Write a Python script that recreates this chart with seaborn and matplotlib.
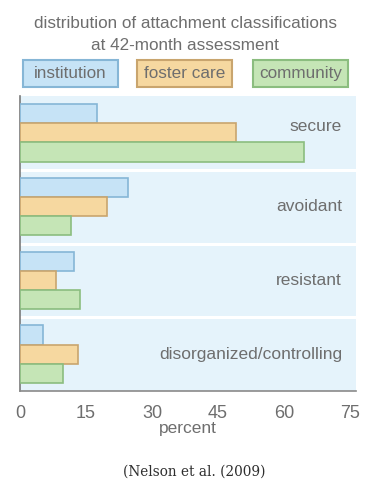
import pandas as pd
import matplotlib.pyplot as plt
import seaborn as sns
from matplotlib.patches import Rectangle

# --- DATA ---
categories = ["secure", "avoidant", "resistant", "disorganized/controlling"]
groups = ["institution", "foster care", "community"]
institution = [17.4, 24.5, 12.3, 5.3]
foster_care = [49.1, 19.7, 8.2, 13.1]
community = [64.5, 11.7, 13.7, 9.8]
x_ticks = [0, 15, 30, 45, 60, 75]

fills = {"institution": "#c6e3f6", "foster care": "#f6d8a0", "community": "#c5e5b6"}
edges = {"institution": "#86b6d6", "foster care": "#c9a56e", "community": "#8bbd7f"}
text_grey = "#6e6e6e"

df = pd.DataFrame({
    "category": categories * 3,
    "group": ["institution"] * 4 + ["foster care"] * 4 + ["community"] * 4,
    "percent": institution + foster_care + community,
})

sns.set_style("white")
plt.rcParams["font.family"] = ["Liberation Sans", "DejaVu Sans"]

fig = plt.figure(figsize=(3.75, 5.04), dpi=100)
ax = fig.add_axes([20 / 375, 1 - 391 / 504, 336 / 375, 295 / 504])
ax.set_facecolor("#e5f3fb")

sns.barplot(data=df, y="category", x="percent", hue="group", order=categories,
            hue_order=groups, palette=fills, saturation=1, orient="h", width=0.78,
            linewidth=1.2, legend=False, ax=ax, zorder=3)
for cont, g in zip(ax.containers, groups):
    for bar in cont:
        bar.set_edgecolor(edges[g])

# white separators between the category bands
for y in [0.5, 1.5, 2.5]:
    ax.axhline(y, color="white", lw=2.2, zorder=2)

ax.set_ylim(3.5, -0.5)
ax.set_xlim(0, 76.4)
ax.set_xticks(x_ticks)
ax.set_xticklabels([str(t) for t in x_ticks], fontsize=13, color=text_grey)
ax.set_yticks([])
ax.set_ylabel("")
ax.set_xlabel("percent", fontsize=12.5, color=text_grey, labelpad=-1)
ax.tick_params(axis="x", direction="out", length=5, width=1, color="#8a8a8a", pad=5)

for s in ["top", "right"]:
    ax.spines[s].set_visible(False)
ax.spines["left"].set_color("#7a7a7a")
ax.spines["left"].set_linewidth(1.2)
ax.spines["bottom"].set_color("#8a8a8a")
ax.spines["bottom"].set_linewidth(1.2)

# category names inside the plot, right aligned ("secure" sits a bit high)
label_shift = [-0.08, 0, 0, 0]
for i, cat in enumerate(categories):
    ax.text(73.2, i + label_shift[i], cat, ha="right", va="center", fontsize=12.5,
            color=text_grey, zorder=4)

# title
fig.text(185 / 375, 1 - 23 / 504, "distribution of attachment classifications",
         ha="center", va="center", fontsize=12.3, color=text_grey)
fig.text(185 / 375, 1 - 45 / 504, "at 42-month assessment",
         ha="center", va="center", fontsize=12.3, color=text_grey)

# legend boxes
box_left = [23, 137, 253]
for x0, g in zip(box_left, groups):
    fig.patches.append(Rectangle((x0 / 375, 1 - 87 / 504), 95 / 375, 27 / 504,
                                 transform=fig.transFigure, facecolor=fills[g],
                                 edgecolor=edges[g], lw=1.5))
    fig.text((x0 + 47.5) / 375, 1 - 73.5 / 504, g, ha="center", va="center",
             fontsize=12.3, color=text_grey)

# source caption
fig.text(194 / 375, 1 - 472 / 504, "(Nelson et al. (2009)", ha="center", va="center",
         fontsize=9.8, color="#2e2e2e", family=["DejaVu Serif"])

fig.savefig("out.png", dpi=100)
